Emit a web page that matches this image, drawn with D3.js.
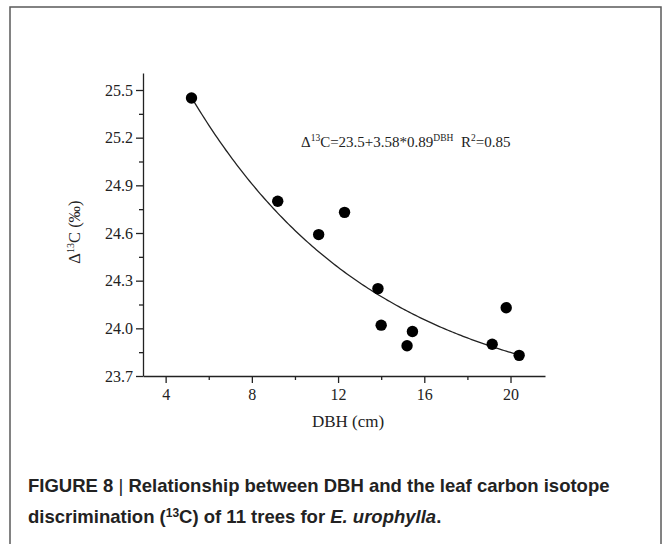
<!DOCTYPE html>
<meta charset="utf-8">
<style>
body { margin: 0; background: #fff; }
.axis text { font-family: "Liberation Serif", "Times New Roman", serif; font-size: 16px; fill: #222; }
.axis path, .axis line { stroke: #222; stroke-width: 1.3px; }
.caption { font-family: "Liberation Sans", Arial, sans-serif; font-size: 18.5px; font-weight: bold; fill: #222; }
</style>
<body>
<script src="https://d3js.org/d3.v7.min.js"></script>
<script>
// data
let dbh  = [5.2, 9.2, 11.1, 12.3, 13.85, 14.0, 15.2, 15.45, 19.15, 19.8, 20.4]
let d13c = [25.45, 24.80, 24.59, 24.73, 24.25, 24.02, 23.89, 23.98, 23.90, 24.13, 23.83]
let xTicks = [4, 8, 12, 16, 20]
let xMinor = [6, 10, 14, 18]
let yTicks = [23.7, 24.0, 24.3, 24.6, 24.9, 25.2, 25.5]
let yMinor = [23.85, 24.15, 24.45, 24.75, 25.05, 25.35]
// fitted model stated on the chart: y = a + b * c^DBH
let fitA = 23.5, fitB = 3.58, fitC = 0.89
let fitRange = [5.2, 20.4]

var width = 670, height = 544

var svg = d3.select("body").append("svg")
    .attr("width", width)
    .attr("height", height)

// outer frame (bottom runs off the page)
svg.append("rect")
    .attr("x", 10).attr("y", 7)
    .attr("width", 651).attr("height", 560)
    .attr("fill", "none")
    .attr("stroke", "#5a5a5a")
    .attr("stroke-width", 1.5)

var x = d3.scaleLinear().domain([2.95, 21.6]).range([143, 545])
var y = d3.scaleLinear().domain([23.7, 25.607]).range([376, 73])

var fmt = d3.format(".1f")

// minor ticks first
svg.append("g").attr("class", "axis")
    .attr("transform", "translate(0,376)")
    .call(d3.axisBottom(x).tickValues(xMinor).tickSize(4).tickFormat(""))
    .select(".domain").remove()
svg.append("g").attr("class", "axis")
    .attr("transform", "translate(143,0)")
    .call(d3.axisLeft(y).tickValues(yMinor).tickSize(4).tickFormat(""))
    .select(".domain").remove()

svg.append("g").attr("class", "axis")
    .attr("transform", "translate(0,376)")
    .call(d3.axisBottom(x).tickValues(xTicks).tickSize(7).tickSizeOuter(0).tickPadding(6))
svg.append("g").attr("class", "axis")
    .attr("transform", "translate(143,0)")
    .call(d3.axisLeft(y).tickValues(yTicks).tickFormat(fmt).tickSize(7).tickSizeOuter(0).tickPadding(3))

// axis titles
svg.append("text")
    .attr("x", 348).attr("y", 427)
    .attr("text-anchor", "middle")
    .style("font-family", "'Liberation Serif', serif")
    .style("font-size", "17px")
    .attr("fill", "#222")
    .text("DBH (cm)")

var yl = svg.append("text")
    .attr("transform", "translate(80,232) rotate(-90)")
    .attr("text-anchor", "middle")
    .style("font-family", "'Liberation Serif', serif")
    .style("font-size", "16.5px")
    .attr("fill", "#222")
yl.append("tspan").text("Δ")
yl.append("tspan").attr("dy", -6).style("font-size", "10px").text("13")
yl.append("tspan").attr("dy", 6).text("C (‰)")

// fit curve
var curve = d3.range(fitRange[0], fitRange[1] + 0.001, 0.1).map(function(v) {
  return [v, fitA + fitB * Math.pow(fitC, v)]
})
svg.append("path")
    .datum(curve)
    .attr("fill", "none")
    .attr("stroke", "#222")
    .attr("stroke-width", 1.3)
    .attr("d", d3.line().x(d => x(d[0])).y(d => y(d[1])))

// points
svg.append("g").selectAll("circle")
    .data(dbh)
  .enter().append("circle")
    .attr("cx", d => x(d))
    .attr("cy", (d, i) => y(d13c[i]))
    .attr("r", 5.7)
    .attr("fill", "#000")

// equation
var eq = svg.append("text")
    .attr("x", 301).attr("y", 147)
    .style("font-family", "'Liberation Serif', serif")
    .style("font-size", "15px")
    .attr("fill", "#222")
eq.append("tspan").text("Δ")
eq.append("tspan").attr("dy", -6).style("font-size", "9.5px").text("13")
eq.append("tspan").attr("dy", 6).text("C=" + fitA + "+" + fitB + "*" + fitC)
eq.append("tspan").attr("dy", -6).style("font-size", "9.5px").text("DBH")
eq.append("tspan").attr("dy", 6).text("\u00a0\u00a0R")
eq.append("tspan").attr("dy", -6).style("font-size", "9.5px").text("2")
eq.append("tspan").attr("dy", 6).text("=0.85")

// caption
var c1 = svg.append("text").attr("class", "caption")
    .attr("x", 28).attr("y", 492)
c1.append("tspan").text("FIGURE 8 ")
c1.append("tspan").style("font-weight", "normal").text("|")
c1.append("tspan").text(" Relationship between DBH and the leaf carbon isotope")

var c2 = svg.append("text").attr("class", "caption")
    .attr("x", 28).attr("y", 523)
c2.append("tspan").text("discrimination (")
c2.append("tspan").attr("dy", -6).style("font-size", "12px").text("13")
c2.append("tspan").attr("dy", 6).text("C) of 11 trees for ")
c2.append("tspan").style("font-style", "italic").text("E. urophylla")
c2.append("tspan").text(".")
</script>
